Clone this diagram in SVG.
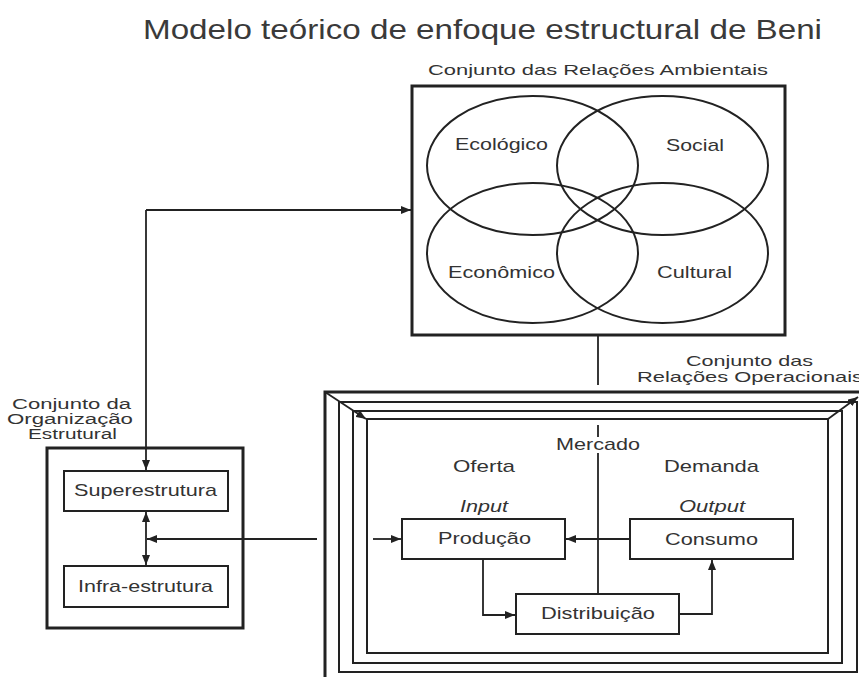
<svg xmlns="http://www.w3.org/2000/svg" width="859" height="677" viewBox="0 0 859 677">
<style>
text{font-family:"Liberation Sans",Arial,sans-serif;fill:#333;}
.lbl{font-size:17px;}
.grp{font-size:15px;}
.grs{font-size:14px;}
.it{font-style:italic;}
.box{fill:none;stroke:#222;stroke-width:2;}
.thick{fill:none;stroke:#222;stroke-width:3;}
.circ{fill:none;stroke:#222;stroke-width:2;}
.ln{fill:none;stroke:#222;stroke-width:1.8;}
.arr{fill:none;stroke:#222;stroke-width:1.8;marker-end:url(#ah);}
.dbl{fill:none;stroke:#222;stroke-width:1.8;marker-end:url(#ah);marker-start:url(#ah);}
</style>
<defs>
<marker id="ah" markerUnits="userSpaceOnUse" markerWidth="10" markerHeight="8" refX="10" refY="4" orient="auto-start-reverse">
<path d="M0,0 L10,4 L0,8 z" fill="#222"/>
</marker>
</defs>
<rect width="859" height="677" fill="#fff"/>

<text x="143" y="39" style="font-size:28px;fill:#3a3a3a" textLength="679" lengthAdjust="spacingAndGlyphs">Modelo teórico de enfoque estructural de Beni</text>

<g id="ambiental">
<text class="grp" x="428" y="75" textLength="340" lengthAdjust="spacingAndGlyphs">Conjunto das Relações Ambientais</text>
<rect class="thick" x="412" y="86" width="373" height="249"/>
<ellipse class="circ" cx="532.5" cy="165.5" rx="105.5" ry="69.5"/>
<ellipse class="circ" cx="662.5" cy="165.5" rx="105.5" ry="69.5"/>
<ellipse class="circ" cx="532.5" cy="253" rx="105.5" ry="70"/>
<ellipse class="circ" cx="662.5" cy="253" rx="105.5" ry="70"/>
<text class="lbl" x="455" y="150" textLength="93" lengthAdjust="spacingAndGlyphs">Ecológico</text>
<text class="lbl" x="666" y="151" textLength="58" lengthAdjust="spacingAndGlyphs">Social</text>
<text class="lbl" x="448" y="278" textLength="107" lengthAdjust="spacingAndGlyphs">Econômico</text>
<text class="lbl" x="657" y="278" textLength="75" lengthAdjust="spacingAndGlyphs">Cultural</text>
</g>

<g id="operacional">
<text class="grp" x="686" y="366" textLength="127" lengthAdjust="spacingAndGlyphs">Conjunto das</text>
<text class="grp" x="637" y="382" textLength="226" lengthAdjust="spacingAndGlyphs">Relações Operacionais</text>
<rect class="thick" x="325" y="392" width="570" height="320"/>
<rect class="box" x="339" y="402" width="518" height="270"/>
<rect class="box" x="353" y="411" width="489" height="252"/>
<rect class="box" x="367" y="419" width="461" height="234"/>
<text class="lbl" x="556" y="450" textLength="84" lengthAdjust="spacingAndGlyphs">Mercado</text>
<text class="lbl" x="453" y="472" textLength="62" lengthAdjust="spacingAndGlyphs">Oferta</text>
<text class="lbl" x="664" y="472" textLength="95" lengthAdjust="spacingAndGlyphs">Demanda</text>
<text class="lbl it" x="460" y="512" textLength="48" lengthAdjust="spacingAndGlyphs">Input</text>
<text class="lbl it" x="679" y="512" textLength="66" lengthAdjust="spacingAndGlyphs">Output</text>
</g>

<g id="producao">
<rect class="box" x="402" y="519" width="163" height="40"/>
<text class="lbl" x="438" y="544" textLength="93" lengthAdjust="spacingAndGlyphs">Produção</text>
</g>
<g id="consumo">
<rect class="box" x="630" y="519" width="163" height="40"/>
<text class="lbl" x="665" y="545" textLength="93" lengthAdjust="spacingAndGlyphs">Consumo</text>
</g>
<g id="distribuicao">
<rect class="box" x="516" y="594" width="163" height="40"/>
<text class="lbl" x="541" y="619" textLength="114" lengthAdjust="spacingAndGlyphs">Distribuição</text>
</g>

<g id="organizacao">
<text class="grs" x="12" y="409" textLength="119" lengthAdjust="spacingAndGlyphs">Conjunto da</text>
<text class="grs" x="7" y="424" textLength="126" lengthAdjust="spacingAndGlyphs">Organização</text>
<text class="grs" x="28" y="439" textLength="89" lengthAdjust="spacingAndGlyphs">Estrutural</text>
<rect class="thick" x="47" y="448" width="196" height="180"/>
</g>
<g id="superestrutura">
<rect class="box" x="64" y="471" width="164" height="40"/>
<text class="lbl" x="74" y="496" textLength="143" lengthAdjust="spacingAndGlyphs">Superestrutura</text>
</g>
<g id="infraestrutura">
<rect class="box" x="64" y="566" width="164" height="41"/>
<text class="lbl" x="78" y="592" textLength="135" lengthAdjust="spacingAndGlyphs">Infra-estrutura</text>
</g>

<g id="connectors">
<path class="arr" d="M146,210 H411"/>
<path class="arr" d="M146,210 V470"/>
<path class="dbl" d="M146,512 V565"/>
<path class="arr" d="M317,539 H147"/>
<path class="ln" d="M598,335 V385"/>
<path class="ln" d="M598,425 V437"/>
<path class="ln" d="M598,453 V594"/>
<path class="arr" d="M325,392 L366,419"/>
<path class="arr" d="M828,419 L858,397"/>
<path class="arr" d="M373,539 H401"/>
<path class="arr" d="M630,539 H566"/>
<path class="arr" d="M483,559 V615 H515"/>
<path class="arr" d="M679,614 H712 V560"/>
</g>
</svg>
